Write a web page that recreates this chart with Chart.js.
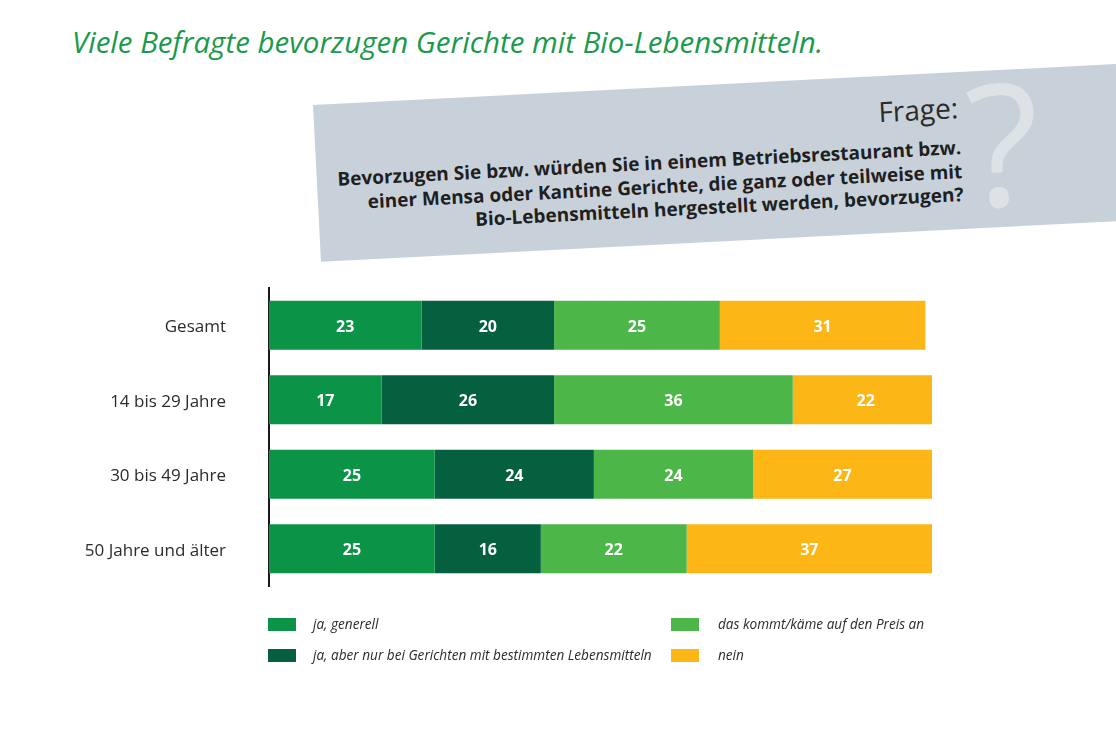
<!DOCTYPE html>
<html lang="de">
<head>
<meta charset="utf-8">
<script src="https://cdn.jsdelivr.net/npm/chart.js@4.4.1/dist/chart.umd.min.js"></script>
<style>
  html, body { margin:0; padding:0; width:1116px; height:744px; overflow:hidden; background:#fff; font-family:"Open Sans", sans-serif; }
  #wrap { position:relative; width:1116px; height:744px; }
  #title { position:absolute; left:72px; top:27px; font-size:29.5px; line-height:1; font-style:italic; color:#1b9a4b; white-space:nowrap; }
  #box { position:absolute; left:313px; top:105px; width:850px; height:157px; background:#c8d1d9; transform-origin:0 0; transform:rotate(-2.92deg); }
  #frage { position:absolute; right:206px; top:21px; font-size:28px; line-height:1; color:#2b2b2b; white-space:nowrap; }
  #q { position:absolute; right:205px; top:64px; font-size:19px; line-height:23.5px; font-weight:bold; color:#1f1f1f; text-align:right; white-space:nowrap; }
  #qm { position:absolute; left:587px; width:200px; top:-15px; font-size:170px; line-height:1; font-weight:400; color:#dde2e7; text-align:center; }
  canvas#c { position:absolute; left:0; top:0; }
  .lg-sw { position:absolute; width:28px; height:13px; }
  .lg-tx { position:absolute; font-size:13.6px; line-height:1; font-style:italic; color:#2b2b2b; white-space:nowrap; }
</style>
</head>
<body>
<div id="wrap">
  <div id="title">Viele Befragte bevorzugen Gerichte mit Bio-Lebensmitteln.</div>
  <div id="box">
    <div id="qm">?</div>
    <div id="frage">Frage:</div>
    <div id="q">Bevorzugen Sie bzw. würden Sie in einem Betriebsrestaurant bzw.<br>einer Mensa oder Kantine Gerichte, die ganz oder teilweise mit<br>Bio-Lebensmitteln hergestellt werden, bevorzugen?</div>
  </div>
  <canvas id="c" width="1116" height="744"></canvas>
  <div id="legend"></div>
</div>
<script>
// ---- data ----
const categories = ["Gesamt", "14 bis 29 Jahre", "30 bis 49 Jahre", "50 Jahre und älter"];
const seriesNames = ["ja, generell", "ja, aber nur bei Gerichten mit bestimmten Lebensmitteln", "das kommt/käme auf den Preis an", "nein"];
const jaGenerell = [23, 17, 25, 25];
const jaAberNur = [20, 26, 24, 16];
const preisAbhaengig = [25, 36, 24, 22];
const nein = [31, 22, 27, 37];
const seriesColors = ["#0b9447", "#04603f", "#4cb748", "#fcb615"];

const seriesValues = [jaGenerell, jaAberNur, preisAbhaengig, nein];

const valueLabels = {
  id: "valueLabels",
  afterDatasetsDraw(chart) {
    const ctx = chart.ctx;
    ctx.save();
    ctx.fillStyle = "#ffffff";
    ctx.font = "bold 16px 'Open Sans', sans-serif";
    ctx.textAlign = "center";
    ctx.textBaseline = "middle";
    chart.data.datasets.forEach((ds, di) => {
      const meta = chart.getDatasetMeta(di);
      meta.data.forEach((el, i) => {
        const cx = (el.x + el.base) / 2;
        ctx.fillText(String(ds.data[i]), cx, el.y + 2);
      });
    });
    ctx.restore();
  }
};

new Chart(document.getElementById("c"), {
  type: "bar",
  data: {
    labels: categories,
    datasets: seriesNames.map((n, i) => ({
      label: n,
      data: seriesValues[i],
      backgroundColor: seriesColors[i],
      borderWidth: 0,
      barPercentage: 0.658,
      categoryPercentage: 1
    }))
  },
  options: {
    indexAxis: "y",
    responsive: false,
    animation: false,
    devicePixelRatio: 1,
    layout: { padding: { left: 0, top: 288, right: 184, bottom: 158 } },
    plugins: { legend: { display: false }, tooltip: { enabled: false } },
    scales: {
      x: { stacked: true, min: 0, max: 100, display: false },
      y: {
        stacked: true,
        afterFit(s) { s.width = 269; },
        grid: { display: false, drawTicks: false },
        border: { display: true, color: "#1a1a1a", width: 2 },
        ticks: { color: "#2b2b2b", font: { family: "'Open Sans', sans-serif", size: 17 }, padding: 43, labelOffset: 2 }
      }
    }
  },
  plugins: [valueLabels]
});

// legend (two columns, column-wise order)
const lg = document.getElementById("legend");
const colX = [268, 671];
const rowY = [618, 649];
seriesNames.forEach((n, i) => {
  const col = Math.floor(i / 2), row = i % 2;
  const sw = document.createElement("div");
  sw.className = "lg-sw";
  sw.style.left = colX[col] + "px";
  sw.style.top = rowY[row] + "px";
  sw.style.background = seriesColors[i];
  lg.appendChild(sw);
  const tx = document.createElement("div");
  tx.className = "lg-tx";
  tx.style.left = (colX[col] + 45 + (col ? 2 : 0)) + "px";
  tx.style.top = (rowY[row] - 1) + "px";
  tx.textContent = n;
  lg.appendChild(tx);
});
</script>
</body>
</html>
